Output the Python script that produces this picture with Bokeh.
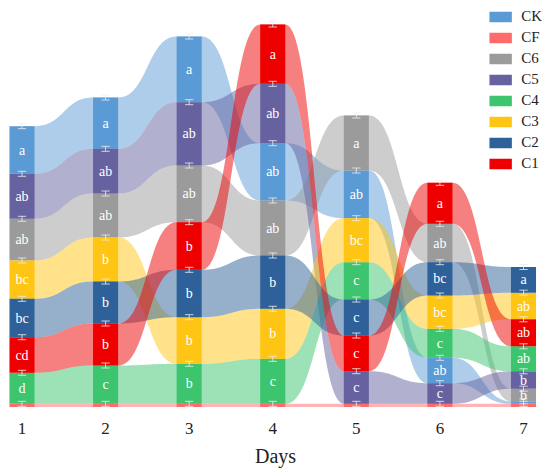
import numpy as np
from bokeh.plotting import figure
from bokeh.models import ColumnDataSource, Range1d, FixedTicker
from bokeh.core.properties import value
from bokeh.embed import file_html
from bokeh.resources import INLINE

# ---------------- data ----------------
days = [1, 2, 3, 4, 5, 6, 7]
series = ["CK", "CF", "C6", "C5", "C4", "C3", "C2", "C1"]

CK = [47.6, 51.3, 65.7, 57.3, 47.7, 25.4, 2.5]
CF = [3.2, 3.2, 3.2, 3.2, 3.2, 3.2, 3.2]
C6 = [41.7, 44.0, 56.7, 55.0, 55.0, 38.4, 12.6]
C5 = [45.0, 44.7, 63.3, 59.4, 32.6, 20.6, 17.4]
C4 = [31.0, 38.3, 40.0, 45.0, 37.3, 29.0, 25.0]
C3 = [38.3, 44.0, 46.6, 50.0, 44.0, 33.3, 26.6]
C2 = [38.4, 42.0, 47.4, 53.3, 36.0, 33.3, 25.7]
C1 = [35.6, 42.0, 47.6, 59.3, 35.7, 41.0, 27.0]

# significance letters
let_CK = ["a", "a", "a", "ab", "ab", "ab", ""]
let_CF = ["", "", "", "", "", "", ""]
let_C6 = ["ab", "ab", "ab", "ab", "a", "ab", "b"]
let_C5 = ["ab", "ab", "ab", "ab", "c", "c", "b"]
let_C4 = ["d", "c", "b", "c", "c", "c", "ab"]
let_C3 = ["bc", "b", "b", "b", "bc", "bc", "ab"]
let_C2 = ["bc", "b", "b", "b", "c", "bc", "a"]
let_C1 = ["cd", "b", "b", "a", "c", "a", "ab"]

# stacking order of each day, top to bottom
order_d1 = ["CK", "C5", "C6", "C3", "C2", "C1", "C4", "CF"]
order_d2 = ["CK", "C5", "C6", "C3", "C2", "C1", "C4", "CF"]
order_d3 = ["CK", "C5", "C6", "C1", "C2", "C3", "C4", "CF"]
order_d4 = ["C1", "C5", "CK", "C6", "C2", "C3", "C4", "CF"]
order_d5 = ["C6", "CK", "C3", "C4", "C2", "C1", "C5", "CF"]
order_d6 = ["C1", "C6", "C2", "C3", "C4", "CK", "C5", "CF"]
order_d7 = ["C2", "C3", "C1", "C4", "C5", "C6", "CK", "CF"]

colors = {"CK": "#5B9BD5", "CF": "#FF6B6B", "C6": "#9B9B9B", "C5": "#66629F",
          "C4": "#3CC46F", "C3": "#FFC514", "C2": "#2E6199", "C1": "#EE0000"}

vals = {"CK": CK, "CF": CF, "C6": C6, "C5": C5, "C4": C4, "C3": C3, "C2": C2, "C1": C1}
lets = {"CK": let_CK, "CF": let_CF, "C6": let_C6, "C5": let_C5, "C4": let_C4,
        "C3": let_C3, "C2": let_C2, "C1": let_C1}
orders = [order_d1, order_d2, order_d3, order_d4, order_d5, order_d6, order_d7]

BAR_W = 0.3
ERR = 2.5

# ---------------- stacking ----------------
bottoms = {s: [0.0] * len(days) for s in series}
tops = {s: [0.0] * len(days) for s in series}
for j, order in enumerate(orders):
    acc = 0.0
    for s in reversed(order):
        bottoms[s][j] = acc
        acc += vals[s][j]
        tops[s][j] = acc


def bezier(xa, ya, xb, yb, n=60):
    t = np.linspace(0, 1, n)
    xm = (xa + xb) / 2
    x = (1 - t) ** 3 * xa + 3 * (1 - t) ** 2 * t * xm + 3 * (1 - t) * t ** 2 * xm + t ** 3 * xb
    y = (1 - t) ** 3 * ya + 3 * (1 - t) ** 2 * t * ya + 3 * (1 - t) * t ** 2 * yb + t ** 3 * yb
    return list(x), list(y)


def edge(ys):
    hw = BAR_W / 2
    xs_out, ys_out = [days[0]], [ys[0]]
    for j in range(len(days) - 1):
        bx, by = bezier(days[j] + hw, ys[j], days[j + 1] - hw, ys[j + 1])
        xs_out += bx
        ys_out += by
    xs_out.append(days[-1])
    ys_out.append(ys[-1])
    return xs_out, ys_out


p = figure(frame_width=534, frame_height=402, output_backend="svg", toolbar_location=None,
           x_range=Range1d(0.8385, 7.2273), y_range=Range1d(-3.5, 398.5),
           min_border_left=8, min_border_right=8, min_border_top=8, min_border_bottom=0)
p.outline_line_color = None
p.grid.visible = False
p.yaxis.visible = False

# bands
for s in series:
    tx, ty = edge(tops[s])
    bx, by = edge(bottoms[s])
    p.patch(tx + bx[::-1], ty + by[::-1], fill_color=colors[s], fill_alpha=0.5, line_color=None)

# bars
for s in series:
    src = ColumnDataSource(dict(x=days, top=tops[s], bottom=bottoms[s]))
    p.vbar(x="x", top="top", bottom="bottom", width=BAR_W, source=src,
           fill_color=colors[s], line_color=None, legend_label=s)

# error bars + letters
ex, ey0, ey1 = [], [], []
cx0, cx1, cy = [], [], []
tx, ty, tt = [], [], []
for s in series:
    for j, d in enumerate(days):
        t = tops[s][j]
        ex.append(d); ey0.append(t - ERR); ey1.append(t + ERR)
        for yy in (t - ERR, t + ERR):
            cx0.append(d - 0.05); cx1.append(d + 0.05); cy.append(yy)
        if lets[s][j]:
            tx.append(d); ty.append((t + bottoms[s][j]) / 2); tt.append(lets[s][j])

p.segment(x0=ex, y0=ey0, x1=ex, y1=ey1, line_color="#EEEEEE", line_alpha=0.8, line_width=1)
p.segment(x0=cx0, y0=cy, x1=cx1, y1=cy, line_color="#EEEEEE", line_alpha=0.8, line_width=1)
p.text(x=tx, y=ty, text=tt, text_color="white", text_font=value("Liberation Serif"),
       text_font_size="14px", text_align="center", text_baseline="middle")

# axis
ax = p.xaxis[0]
ax.ticker = FixedTicker(ticks=days)
ax.axis_line_color = None
ax.major_tick_line_color = None
ax.minor_tick_line_color = None
ax.major_tick_out = 0
ax.major_tick_in = 0
ax.major_label_standoff = 12
ax.major_label_text_font = "Liberation Serif"
ax.major_label_text_font_size = "17px"
ax.major_label_text_color = "#222222"
ax.axis_label = "Days"
ax.axis_label_text_font = "Liberation Serif"
ax.axis_label_text_font_size = "20px"
ax.axis_label_text_font_style = "normal"
ax.axis_label_text_color = "#222222"
ax.axis_label_standoff = 8

# legend
lg = p.legend[0]
lg.location = "top_right"
lg.glyph_width = 28
lg.glyph_height = 13
lg.label_height = 13
lg.spacing = 4
lg.padding = 1
lg.margin = 0
lg.label_standoff = 7
lg.label_text_font = "Liberation Serif"
lg.label_text_font_size = "15px"
lg.label_text_color = "#222222"
lg.border_line_color = None
lg.background_fill_alpha = 0

open("out.html", "w").write(file_html(p, INLINE))
